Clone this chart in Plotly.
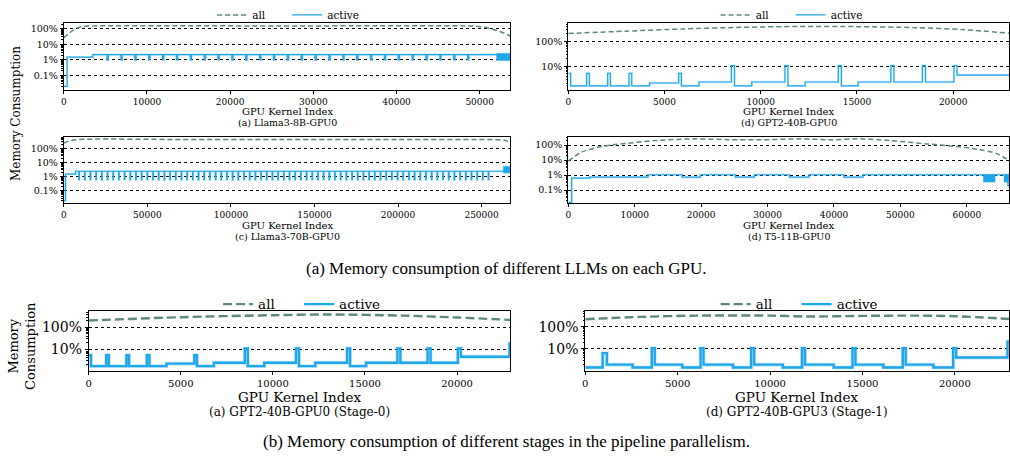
import math
import plotly.graph_objects as go

W, H = 1010, 459

# ---------------- data ----------------
# (a) Llama3-8B-GPU0
l8_all_x = [0, 600, 1200, 2000, 3000, 15000, 26000, 38000, 49000, 50500, 51400, 52400, 53100, 53700]
l8_all_y = [26, 50, 85, 130, 150, 155, 152, 155, 150, 130, 100, 67, 48, 33]
l8_head_x = [0, 400, 3500]
l8_head_y = [0.02, 1.5, 2.2]
l8_dip_first, l8_dip_period, l8_dip_count, l8_dip_width = 5200, 1667, 27, 150
l8_dip_low, l8_high = 1.0, 2.2
l8_block = [52040, 53700, 0.9, 2.6]
l8_xmax = 53700

# (d) GPT2-40B-GPU0  (also used for Stage-0)
g0_all_x = [0, 3000, 6000, 9000, 12000, 15000, 18000, 20500, 22900]
g0_all_y = [209, 260, 320, 370, 400, 395, 360, 300, 215]
g0_act_x = [0, 120, 950, 1090, 2045, 2185, 3155, 3295, 4220, 5735, 5875, 6795, 8475, 8635,
            9535, 11255, 11415, 12305, 14030, 14190, 15060, 16760, 16920, 18400, 18560, 20040, 20200]
g0_act_y = [5.2, 1.6, 5.2, 1.6, 5.2, 1.6, 5.2, 1.6, 2.1, 5.2, 1.6, 2.3, 10.5, 1.6,
            2.3, 10.5, 1.6, 2.3, 10.5, 1.6, 2.3, 10.5, 2.3, 10.5, 2.3, 10.5, 4.4]
g0_xmax = 22900

# (c) Llama3-70B-GPU0
l70_all_x = [0, 3000, 8000, 70000, 130000, 200000, 258000, 264000, 267300]
l70_all_y = [240, 330, 420, 430, 425, 430, 420, 380, 260]
l70_head_x = [0, 1000, 7000]
l70_head_y = [0.02, 1.5, 2.4]
l70_dip_first, l70_dip_period, l70_dip_count, l70_dip_width = 9000, 3403, 73, 300
l70_dip_low, l70_high = 0.6, 2.4
l70_block = [263000, 267300, 1.8, 5.3]
l70_xmax = 267300

# (d) T5-11B-GPU0
t5_all_x = [0, 2000, 5000, 7000, 9000, 13000, 19000, 24000, 29000, 35000, 39500, 44000,
            48500, 54000, 58500, 62000, 64500, 66350]
t5_all_y = [8.6, 34, 80, 109, 133, 200, 260, 230, 225, 260, 225, 260,
            200, 120, 80, 49, 27, 9.5]
t5_act_x = [0, 500, 3200, 12000, 17100, 19900, 25150, 28000, 33300, 36250, 41500, 44350, 66200]
t5_act_y = [0.015, 0.63, 0.72, 1.05, 0.72, 1.05, 0.72, 1.05, 0.72, 1.05, 0.72, 1.05, 0.2]
t5_blocks = [[62500, 64250, 0.34, 1.05], [65600, 66350, 0.34, 1.05]]
t5_xmax = 66350

# (a) GPT2-40B-GPU0 (Stage-0): same trace as GPU0 plus final spike
s0_all_x = [0, 5000, 10000, 13000, 17000, 20000, 22900]
s0_all_y = [210, 300, 370, 400, 356, 290, 224]
s0_end_x, s0_end_y = 22850, 18

# (d) GPT2-40B-GPU3 (Stage-1)
s1_all_x = [0, 3000, 6000, 10000, 12000, 15000, 18000, 20000, 22930]
s1_all_y = [220, 280, 320, 320, 290, 310, 320, 300, 225]
s1_act_x = [0, 940, 1170, 2560, 3600, 3760, 5250, 6240, 6400, 7990, 8980, 9140, 10690,
            11730, 11890, 13440, 14460, 14620, 16130, 17180, 17340, 18840, 19910, 20070, 22850]
s1_act_y = [1.4, 6.3, 1.9, 1.4, 10.5, 1.9, 1.4, 10.5, 1.9, 1.4, 10.5, 1.9, 1.4,
            10.5, 1.9, 1.4, 10.5, 1.9, 1.4, 10.5, 1.9, 1.4, 10.5, 4.0, 21]
s1_xmax = 22930

# ---------------- styling ----------------
ALL_COLOR = '#5b8a72'
ACT_COLOR = '#1ea6ea'
HALO = 'rgba(30,166,234,0.22)'
FONT = 'DejaVu Serif'


def with_dips(hx, hy, first, period, count, width, low, high):
    x, y = list(hx), list(hy)
    for i in range(count):
        s = first + i * period
        x += [s, s + width]
        y += [low, high]
    return x, y


def close_steps(x, y, xend):
    return list(x) + [xend], list(y) + [y[-1]]


l8_x, l8_y = with_dips(l8_head_x, l8_head_y, l8_dip_first, l8_dip_period, l8_dip_count,
                       l8_dip_width, l8_dip_low, l8_high)
l70_x, l70_y = with_dips(l70_head_x, l70_head_y, l70_dip_first, l70_dip_period, l70_dip_count,
                         l70_dip_width, l70_dip_low, l70_high)

panels = [
    dict(box=(61, 19.5, 509, 86.5), xmax=l8_xmax, yr=[-1.92, 2.35],
         xt=[0, 10000, 20000, 30000, 40000, 50000], yt=[0.1, 1, 10, 100],
         allx=l8_all_x, ally=l8_all_y, actx=l8_x, acty=l8_y, blocks=[l8_block],
         legend='legend', big=False),
    dict(box=(567, 19, 1009, 87), xmax=g0_xmax, yr=[0.03, 2.75],
         xt=[0, 5000, 10000, 15000, 20000], yt=[10, 100],
         allx=g0_all_x, ally=g0_all_y, actx=g0_act_x, acty=g0_act_y, blocks=[],
         legend='legend2', big=False),
    dict(box=(61, 134, 509, 201), xmax=l70_xmax, yr=[-1.89, 2.82],
         xt=[0, 50000, 100000, 150000, 200000, 250000], yt=[0.1, 1, 10, 100],
         allx=l70_all_x, ally=l70_all_y, actx=l70_x, acty=l70_y, blocks=[l70_block],
         legend=None, big=False),
    dict(box=(567, 134, 1009, 201), xmax=t5_xmax, yr=[-1.88, 2.55],
         xt=[0, 10000, 20000, 30000, 40000, 50000, 60000], yt=[0.1, 1, 10, 100],
         allx=t5_all_x, ally=t5_all_y, actx=t5_act_x, acty=t5_act_y, blocks=t5_blocks,
         legend=None, big=False),
    dict(box=(86, 310, 509, 370), xmax=g0_xmax, yr=[-0.01, 2.75],
         xt=[0, 5000, 10000, 15000, 20000], yt=[10, 100],
         allx=s0_all_x, ally=s0_all_y, actx=g0_act_x + [s0_end_x], acty=g0_act_y + [s0_end_y],
         blocks=[], legend='legend3', big=True),
    dict(box=(584, 310, 1009, 370), xmax=s1_xmax, yr=[0.0, 2.70],
         xt=[0, 5000, 10000, 15000, 20000], yt=[10, 100],
         allx=s1_all_x, ally=s1_all_y, actx=s1_act_x, acty=s1_act_y, blocks=[],
         legend='legend4', big=True),
]

fig = go.Figure()
layout = dict(width=W, height=H, autosize=False, margin=dict(l=0, r=0, t=0, b=0),
              plot_bgcolor='white', paper_bgcolor='white', font=dict(family=FONT, color='black'))

minor_all = [m * 10 ** e for e in range(-3, 3) for m in range(2, 10)]

for i, p in enumerate(panels, start=1):
    xa = 'x' if i == 1 else f'x{i}'
    ya = 'y' if i == 1 else f'y{i}'
    x0, top, x1, bot = p['box']
    big = p['big']
    lw_all = 2.4 if big else 1.5
    lw_act = 2.4 if big else 1.2
    lw_halo = 4.0 if big else 2.4
    show = p['legend'] is not None
    leg = p['legend'] or 'legend'
    ax_x, ax_y = close_steps(p['actx'], p['acty'], p['xmax'])
    fig.add_trace(go.Scatter(x=ax_x, y=ax_y, mode='lines', line=dict(color=HALO, width=lw_halo, shape='hv'),
                             xaxis=xa, yaxis=ya, showlegend=False, hoverinfo='skip'))
    for b in p['blocks']:
        fig.add_trace(go.Scatter(x=[b[0], b[1], b[1], b[0], b[0]], y=[b[2], b[2], b[3], b[3], b[2]],
                                 mode='lines', fill='toself', fillcolor=ACT_COLOR,
                                 line=dict(color=ACT_COLOR, width=0.5), xaxis=xa, yaxis=ya,
                                 showlegend=False, hoverinfo='skip'))
    fig.add_trace(go.Scatter(x=p['allx'], y=p['ally'], mode='lines', name='all',
                             line=dict(color=ALL_COLOR, width=lw_all, dash='5px,3px' if not big else '9px,4px',
                                       shape='spline', smoothing=0.8),
                             xaxis=xa, yaxis=ya, showlegend=show, legend=leg))
    fig.add_trace(go.Scatter(x=ax_x, y=ax_y, mode='lines', name='active',
                             line=dict(color=ACT_COLOR, width=lw_act, shape='hv'),
                             xaxis=xa, yaxis=ya, showlegend=show, legend=leg))
    tick_fs_x = 10 if big else 9
    tick_fs_y = 14 if big else 9.5
    lo, hi = p['yr']
    minors = [v for v in minor_all if lo < math.log10(v) < hi]
    layout['xaxis' if i == 1 else f'xaxis{i}'] = dict(
        domain=[x0 / W, x1 / W], range=[0, p['xmax']], anchor=ya, tickmode='array', tickvals=p['xt'],
        ticktext=[str(v) for v in p['xt']],
        ticks='outside', ticklen=3, tickwidth=0.8, tickcolor='black', showline=True, mirror=True,
        linecolor='black', linewidth=1, showgrid=False, zeroline=False,
        tickfont=dict(family=FONT, size=tick_fs_x))
    layout['yaxis' if i == 1 else f'yaxis{i}'] = dict(
        domain=[1 - bot / H, 1 - top / H], type='log', range=p['yr'], anchor=xa, tickmode='array',
        tickvals=p['yt'], ticktext=[(f'{v:g}%') for v in p['yt']],
        ticks='outside', ticklen=3, tickwidth=0.8, tickcolor='black', showline=True, mirror=True,
        linecolor='black', linewidth=1, showgrid=True, gridcolor='black', griddash='dot', gridwidth=0.8,
        zeroline=False, tickfont=dict(family=FONT, size=tick_fs_y),
        minor=dict(tickmode='array', tickvals=minors, ticks='outside', ticklen=1.5, tickwidth=0.6,
                   tickcolor='black', showgrid=False))

# legend: centre x (px), centre y (px), font size, text entry width (px)
legend_pos = {
    'legend': (285, 11, 10.5, 30),
    'legend2': (790, 11, 10.5, 30),
    'legend3': (297, 303, 13.5, 36),
    'legend4': (796, 303, 13.5, 36),
}
for name, (cx, cy, fs, ew) in legend_pos.items():
    layout[name] = dict(orientation='h', x=cx / W, y=1 - cy / H, xanchor='center', yanchor='middle',
                        bgcolor='rgba(0,0,0,0)', font=dict(family=FONT, size=fs), itemwidth=30,
                        entrywidth=ew, entrywidthmode='pixels', tracegroupgap=0,
                        borderwidth=0)

annos = []


def txt(x, y, s, size, family=FONT, angle=0):
    annos.append(dict(x=x / W, y=1 - y / H, xref='paper', yref='paper', text=s, showarrow=False,
                      xanchor='center', yanchor='middle', textangle=angle,
                      font=dict(family=family, size=size, color='black')))


sub = [
    (285, 108, 120, 'GPU Kernel Index', '(a) Llama3-8B-GPU0', 10, 9.5),
    (788, 108, 120, 'GPU Kernel Index', '(d) GPT2-40B-GPU0', 10, 9.5),
    (285, 223, 235, 'GPU Kernel Index', '(c) Llama3-70B-GPU0', 10, 9.5),
    (788, 223, 235, 'GPU Kernel Index', '(d) T5-11B-GPU0', 10, 9.5),
    (297, 396, 412, 'GPU Kernel Index', '(a) GPT2-40B-GPU0 (Stage-0)', 13.5, 12),
    (796, 396, 412, 'GPU Kernel Index', '(d) GPT2-40B-GPU3 (Stage-1)', 13.5, 12),
]
for cx, y1, y2, t1, t2, f1, f2 in sub:
    txt(cx, y1, t1, f1)
    txt(cx, y2, t2, f2)

txt(13, 110, 'Memory Consumption', 12, angle=-90)
txt(19, 345, 'Memory<br>Consumption', 13, angle=-90)
txt(505, 267, '(a) Memory consumption of different LLMs on each GPU.', 17, family='Liberation Serif')
txt(505, 441, '(b) Memory consumption of different stages in the pipeline parallelism.', 17,
    family='Liberation Serif')

layout['annotations'] = annos
fig.update_layout(**layout)
fig.write_html('out.html', config={'displayModeBar': False},
               post_script="document.body.style.margin='0';document.body.style.overflow='hidden';")
